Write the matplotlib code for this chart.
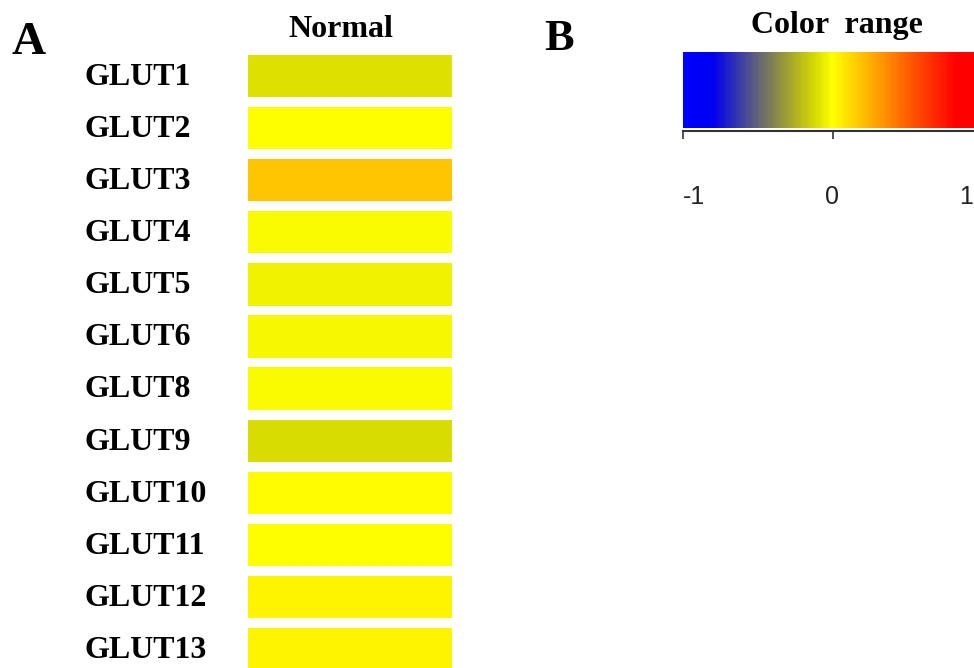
import numpy as np
import matplotlib
matplotlib.use("Agg")
import matplotlib.pyplot as plt
import matplotlib.transforms as mtransforms
from matplotlib.colors import LinearSegmentedColormap, Normalize
from matplotlib.cm import ScalarMappable

# genes and their (estimated) expression value on the -1..1 colour scale
genes = ["GLUT1", "GLUT2", "GLUT3", "GLUT4", "GLUT5", "GLUT6",
         "GLUT8", "GLUT9", "GLUT10", "GLUT11", "GLUT12", "GLUT13"]
normal = [-0.10, 0.0, 0.185, -0.01, -0.04, -0.025,
          -0.015, -0.115, 0.008, 0.0, 0.038, 0.032]

# colour range nodes
cmap_pos = [0.0, 0.10, 0.25, 0.35, 0.44, 0.5, 0.65, 0.775, 0.915, 1.0]
cmap_col = ["#0000ff", "#0000f0", "#646478", "#a0a032", "#d6da00",
            "#ffff00", "#ffa000", "#ff5000", "#ff0000", "#ff0000"]
ticks = [-1, 0, 1]

W, H = 974, 668
serif = "Liberation Serif"
sans = "Liberation Sans"
plt.rcParams["axes.unicode_minus"] = False


def px(x, y):
    return x / W, 1 - y / H


cmap = LinearSegmentedColormap.from_list("range", list(zip(cmap_pos, cmap_col)))
norm = Normalize(-1, 1)

fig = plt.figure(figsize=(W / 100, H / 100), dpi=100)

# panel A: one bar per gene
top, bot = 49.95, 675.15
ax = fig.add_axes([248 / W, 1 - bot / H, 204 / W, (bot - top) / H])
y = np.arange(len(genes))
ax.barh(y, [1] * len(genes), left=0, height=0.81, color=cmap(norm(normal)))
ax.set_xlim(0, 1)
ax.set_ylim(len(genes) - 0.5, -0.5)
ax.axis("off")

trans = mtransforms.blended_transform_factory(fig.transFigure, ax.transData)
for i, g in enumerate(genes):
    ax.text(85 / W, i + 0.17, g, transform=trans, ha="left", va="baseline",
            fontsize=23, fontweight="bold", family=serif, clip_on=False)

fig.text(*px(341, 37), "Normal", ha="center", va="baseline",
         fontsize=23, fontweight="bold", family=serif)
fig.text(*px(12, 54), "A", ha="left", va="baseline",
         fontsize=34, fontweight="bold", family=serif)

# panel B: colour range
fig.text(*px(544, 50), "B", ha="left", va="baseline",
         fontsize=32, fontweight="bold", family=serif)
fig.text(*px(837, 33), "Color  range", ha="center", va="baseline",
         fontsize=23, fontweight="bold", family=serif)

cax = fig.add_axes([683 / W, 1 - 128 / H, 299 / W, 76 / H])
cb = fig.colorbar(ScalarMappable(norm=norm, cmap=cmap), cax=cax,
                  orientation="horizontal", ticks=ticks)
cb.outline.set_visible(False)
sp = cax.spines["bottom"]
sp.set_visible(True)
sp.set_position(("outward", 2.5))
sp.set_linewidth(1.5)
sp.set_color("#333333")
cax.tick_params(axis="x", direction="out", length=5.5, width=1.2,
                color="#333333", pad=33, labelsize=18, labelcolor="#222222")
labels = cax.get_xticklabels()
for lab in labels:
    lab.set_family(sans)
labels[0].set_ha("left")
labels[-1].set_ha("right")
# keep the last label inside the picture
shift = mtransforms.ScaledTranslation(-9 / 100, 0, fig.dpi_scale_trans)
labels[-1].set_transform(labels[-1].get_transform() + shift)

fig.savefig("out.png", dpi=100)
